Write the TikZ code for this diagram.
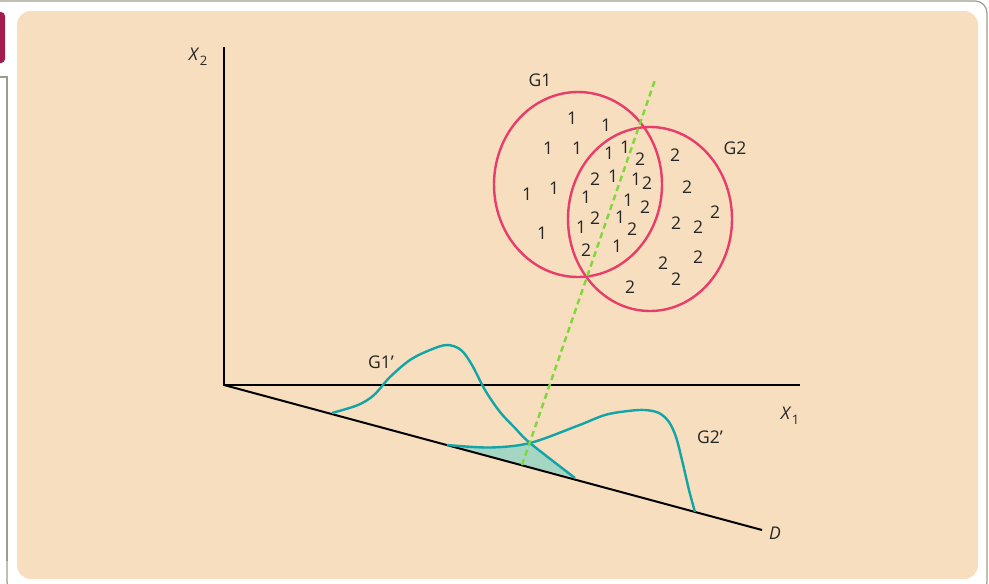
\documentclass[tikz,border=0pt]{standalone}
\usepackage{fontspec}
\setmainfont{Open Sans}
\usepackage{xcolor}
\usetikzlibrary{positioning,calc}

\definecolor{panel}{HTML}{F6DEBE}
\definecolor{frame}{HTML}{9C9C8C}
\definecolor{tab}{HTML}{A21D4C}
\definecolor{grpred}{HTML}{E83D6B}
\definecolor{cutgreen}{HTML}{7ED83A}
\definecolor{dens}{HTML}{12A5A8}
\definecolor{densfill}{HTML}{A5D5C3}
\definecolor{ink}{HTML}{262626}

\begin{document}
\begin{tikzpicture}[
    x=1pt, y=-1pt,
    ax/.style={line width=2pt, black},
    grp/.style={line width=2.4pt, grpred},
    cut/.style={line width=2.4pt, cutgreen, dash pattern=on 6pt off 4pt},
    curve/.style={line width=2.4pt, dens, smooth, tension=0.55},
    num/.style={font=\fontsize{17.5}{20}\selectfont, text=ink, inner sep=0pt},
    lbl/.style={font=\fontsize{17.5}{20}\selectfont, text=ink, inner sep=0pt}
]
    \useasboundingbox (0,0) rectangle (989,584);

    % Frame and panel
    \draw[frame, line width=1.2pt, rounded corners=12pt] (0,1) -- (987,1) -- (987,594)
        -- (7,594) -- (7,560);
    \draw[frame, line width=1.2pt] (7,561) -- (7,77) -- (0,77);
    \fill[tab, rounded corners=4pt] (-8,12) rectangle (5,63);
    \fill[panel, rounded corners=14pt] (17,11) rectangle (978,579);

    % Axes
    \coordinate (O) at (224,385);
    \coordinate (X2end) at (224,47);
    \coordinate (X1end) at (800,385);
    \coordinate (Dend) at (762,530);
    \coordinate (cross) at (530,443);

    % Shaded overlap of projected densities
    \fill[densfill] plot[smooth, tension=0.55] coordinates {(447,445) (490,447.5) (530,443)}
        -- (575,478) -- cycle;

    \draw[ax] (X2end) -- (O) -- (X1end);
    \draw[ax] (O) -- (Dend);
    \node[lbl, right=7pt of Dend, yshift=-3pt] (Dlab) {\textit{D}};
    \node[lbl] (X2lab) at (198,57) {\textit{X}\kern0.5pt\raisebox{-5pt}{\fontsize{13}{13}\selectfont 2}};
    \node[lbl] (X1lab) at (790,416) {\textit{X}\kern0.5pt\raisebox{-5pt}{\fontsize{13}{13}\selectfont 1}};

    % Projected densities
    \draw[curve] plot coordinates {(332,413) (358,405) (374,395) (390,377) (410,360)
        (430,350) (447,345) (461,350) (472,365) (485,390) (500,412) (515,428) (530,443) (575,478)};
    \draw[curve] plot coordinates {(447,445) (490,447.5) (530,443) (577,426) (605,415)
        (628,411) (645,410) (659,413) (669,422) (676,437) (682,460) (689,490) (695,512)};
    \node[lbl] (G1p) at (381,362) {G1\textquoteright};
    \node[lbl] (G2p) at (710,437) {G2\textquoteright};

    % Groups
    \draw[grp] (578,184.5) ellipse[x radius=84, y radius=92.5];
    \draw[grp] (650,219) ellipse[x radius=82, y radius=92];
    \node[lbl] (G1) at (540,80) {G1};
    \node[lbl] (G2) at (735,148) {G2};

    \foreach \p [count=\i] in {(572,118),(606,125),(548,148),(577,148),(609,153),(625,147),
        (613,176),(636,179),(527,194),(554,188),(586,197),(628,200),(542,233),(581,227),
        (620,217),(617,246)}
        \node[num] (one\i) at \p {1};
    \foreach \p [count=\i] in {(640,159),(675,155),(595,179),(647,183),(687,187),(645,207),
        (715,212),(595,218),(632,229),(676,223),(698,227),(586,250),(698,257),(663,263),
        (676,279),(630,287)}
        \node[num] (two\i) at \p {2};

    % Cut line
    \coordinate (cutlow) at (522,465);
    \coordinate (cuthigh) at (655,80);
    \draw[cut] (cutlow) -- (cuthigh);
\end{tikzpicture}
\end{document}
